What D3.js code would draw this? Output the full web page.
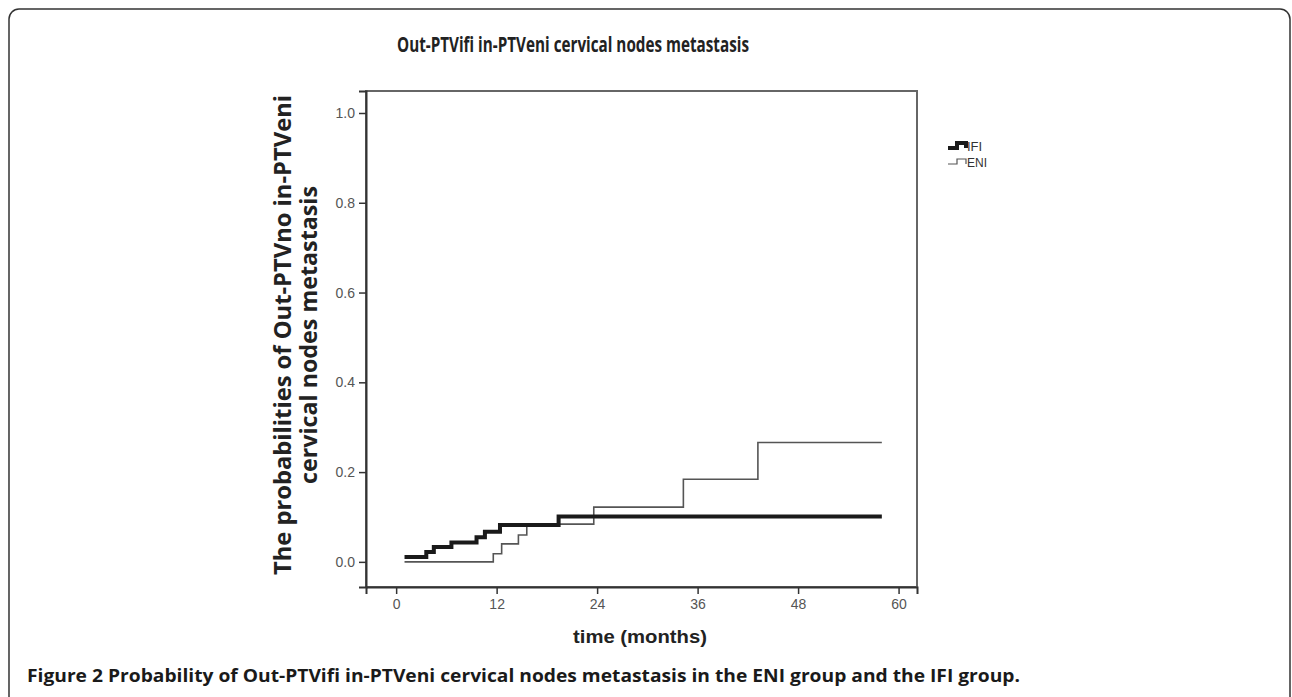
<!DOCTYPE html>
<html>
<head>
<meta charset="utf-8">
<script src="https://cdn.jsdelivr.net/npm/d3@7"></script>
<style>
  body { margin: 0; background: #fff; }
  svg { display: block; }
</style>
</head>
<body>
<div id="chart"></div>
<script>
// chart values
let titleText = 'Out-PTVifi in-PTVeni cervical nodes metastasis'
let yLabelLines = ['The probabilities of Out-PTVno in-PTVeni', 'cervical nodes metastasis']
let xLabelText = 'time (months)'
let captionBold = 'Figure 2'
let captionRest = ' Probability of Out-PTVifi in-PTVeni cervical nodes metastasis in the ENI group and the IFI group.'

let xTicks = [0, 12, 24, 36, 48, 60]
let yTicks = [0.0, 0.2, 0.4, 0.6, 0.8, 1.0]

let seriesNames = ['IFI', 'ENI']
let ifiTime = [1, 3.6, 4.5, 6.6, 9.6, 10.6, 12.4, 19.4, 58]
let ifiProb = [0.011, 0.022, 0.033, 0.043, 0.055, 0.067, 0.082, 0.101, 0.101]
let eniTime = [1, 11.6, 12.6, 14.6, 15.6, 23.6, 34.3, 43.2, 58]
let eniProb = [0, 0.018, 0.04, 0.06, 0.084, 0.122, 0.184, 0.266, 0.266]

let W = 1292
let H = 697
let ink = '#222'

let svg = d3.select('#chart').append('svg')
  .attr('width', W)
  .attr('height', H)

// outer rounded panel
svg.append('rect')
  .attr('x', 9).attr('y', 9)
  .attr('width', 1281).attr('height', 740)
  .attr('rx', 10)
  .attr('fill', 'none')
  .attr('stroke', '#333')
  .attr('stroke-width', 1.5)

svg.append('text')
  .attr('x', 573).attr('y', 52)
  .attr('text-anchor', 'middle')
  .attr('font-family', 'Open Sans, Noto Sans, sans-serif')
  .attr('font-weight', 'bold')
  .attr('font-size', 22)
  .attr('textLength', 352)
  .attr('lengthAdjust', 'spacingAndGlyphs')
  .attr('fill', ink)
  .text(titleText)

// scales: domain covers the whole plot frame
let x = d3.scaleLinear().domain([-3.6, 62.2]).range([366, 917])
let y = d3.scaleLinear().domain([-0.056, 1.049]).range([587, 91])

let plot = svg.append('g')

// frame
plot.append('rect')
  .attr('x', x.range()[0]).attr('y', y.range()[1])
  .attr('width', x.range()[1] - x.range()[0])
  .attr('height', y.range()[0] - y.range()[1])
  .attr('fill', 'none')
  .attr('stroke', '#666')
  .attr('stroke-width', 2)

let xAxis = plot.append('g')
  .attr('transform', 'translate(0,' + y.range()[0] + ')')
  .call(d3.axisBottom(x).tickValues(xTicks).tickSize(7).tickPadding(5).tickFormat(d3.format('d')))
let yAxis = plot.append('g')
  .attr('transform', 'translate(' + x.range()[0] + ',0)')
  .call(d3.axisLeft(y).tickValues(yTicks).tickSize(7).tickPadding(4).tickFormat(d3.format('.1f')))

;[xAxis, yAxis].forEach(a => {
  a.select('.domain').attr('stroke', '#333').attr('stroke-width', 2)
  a.selectAll('.tick line').attr('stroke', '#333').attr('stroke-width', 1.5)
  a.selectAll('.tick text')
    .attr('font-family', 'Liberation Sans, Arial, sans-serif')
    .attr('font-size', 14)
    .attr('fill', '#555')
})

// step curves
let line = d3.line()
  .x(d => x(d[0]))
  .y(d => y(d[1]))
  .curve(d3.curveStepAfter)

plot.append('path')
  .datum(d3.zip(eniTime, eniProb))
  .attr('d', line)
  .attr('fill', 'none')
  .attr('stroke', '#555')
  .attr('stroke-width', 1.6)

plot.append('path')
  .datum(d3.zip(ifiTime, ifiProb))
  .attr('d', line)
  .attr('fill', 'none')
  .attr('stroke', '#1a1a1a')
  .attr('stroke-width', 4)

// axis titles
svg.append('text')
  .attr('x', 640).attr('y', 643)
  .attr('text-anchor', 'middle')
  .attr('font-family', 'Liberation Sans, Arial, sans-serif')
  .attr('font-weight', 'bold')
  .attr('font-size', 19)
  .attr('textLength', 134)
  .attr('lengthAdjust', 'spacingAndGlyphs')
  .attr('fill', ink)
  .text(xLabelText)

let yLens = [480, 298]
let yl = svg.append('text')
  .attr('transform', 'translate(291,335) rotate(-90)')
  .attr('text-anchor', 'middle')
  .attr('font-family', 'Open Sans, Noto Sans, sans-serif')
  .attr('font-weight', 'bold')
  .attr('font-size', 23.5)
  .attr('fill', ink)
yLabelLines.forEach((t, i) => {
  yl.append('tspan')
    .attr('x', 0)
    .attr('y', i * 26)
    .attr('textLength', yLens[i])
    .attr('lengthAdjust', 'spacingAndGlyphs')
    .text(t)
})

// legend
let legend = svg.append('g').attr('transform', 'translate(948,148)')
seriesNames.forEach((name, i) => {
  let g = legend.append('g').attr('transform', 'translate(0,' + i * 16 + ')')
  g.append('path')
    .attr('d', 'M0,0 H9 V-5 H18 V0')
    .attr('fill', 'none')
    .attr('stroke', i === 0 ? '#1a1a1a' : '#555')
    .attr('stroke-width', i === 0 ? 4 : 1.2)
  g.append('text')
    .attr('x', 19).attr('y', 3)
    .attr('font-family', 'Liberation Sans, Arial, sans-serif')
    .attr('font-size', i === 0 ? 13 : 12)
    .attr('fill', '#333')
    .text(name)
})

// caption
let cap = svg.append('text')
  .attr('x', 27).attr('y', 682)
  .attr('font-family', 'Open Sans, Noto Sans, sans-serif')
  .attr('font-size', 17)
  .attr('font-weight', 'bold')
  .attr('fill', '#1a1a1a')
  .attr('textLength', 993)
  .attr('lengthAdjust', 'spacingAndGlyphs')
cap.append('tspan').text(captionBold)
cap.append('tspan').text(captionRest)
</script>
</body>
</html>
